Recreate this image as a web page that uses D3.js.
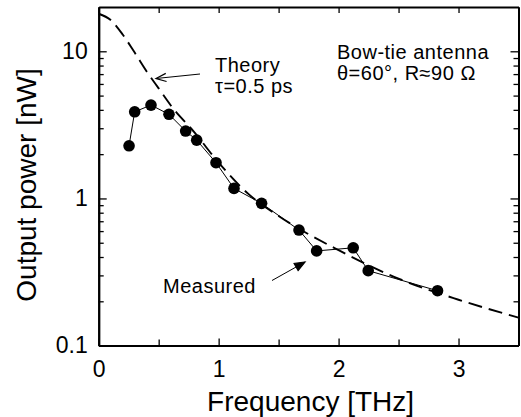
<!DOCTYPE html>
<html>
<head>
<meta charset="utf-8">
<script src="https://cdn.jsdelivr.net/npm/d3@7"></script>
<style>
  body { margin: 0; background: #fff; }
  svg { display: block; font-family: "Liberation Sans", Arial, sans-serif; }
</style>
</head>
<body>
<svg id="chart" width="521" height="417"></svg>
<script>
// measured output power of the bow-tie antenna
const freqMeasured = [0.253, 0.30, 0.436, 0.586, 0.725, 0.817, 0.978, 1.128, 1.358, 1.67, 1.817, 2.122, 2.247, 2.825];
const powerMeasured = [2.28, 3.88, 4.31, 3.73, 2.87, 2.49, 1.75, 1.17, 0.926, 0.61, 0.44, 0.462, 0.323, 0.236];

// theory curve (tau = 0.5 ps)
const freqTheory = [0, 0.1, 0.2, 0.3, 0.4, 0.5, 0.6, 0.8, 1.0, 1.25, 1.5, 2.0, 2.5, 3.0, 3.5];
const powerTheory = [18, 16.3, 13, 9.8, 7.3, 5.6, 4.3, 2.8, 1.75, 1.07, 0.76, 0.445, 0.285, 0.205, 0.155];

const xMajor = [0, 1, 2, 3];
const xMinor = [0.5, 1.5, 2.5];
const yMajor = [0.1, 1, 10];
const yMinor = [0.2, 0.3, 0.4, 0.5, 0.6, 0.7, 0.8, 0.9, 2, 3, 4, 5, 6, 7, 8, 9];

const plotLeft = 98.7, plotRight = 518.5, plotTop = 7, plotBottom = 345.6;

const svg = d3.select('#chart');

const x = d3.scaleLinear().domain([0, 3.5]).range([plotLeft, plotRight]);
const y = d3.scaleLog().domain([0.1, 20]).range([plotBottom, plotTop]);

// theory, dashed
const theory = freqTheory.map((f, i) => ({ f, p: powerTheory[i] }));
svg.append('path')
  .datum(theory)
  .attr('fill', 'none')
  .attr('stroke', '#000')
  .attr('stroke-width', 1.9)
  .attr('stroke-dasharray', '14,7')
  .attr('d', d3.line().x(d => x(d.f)).y(d => y(d.p)).curve(d3.curveMonotoneX));

// measured, thin line + dots
const measured = freqMeasured.map((f, i) => ({ f, p: powerMeasured[i] }));
svg.append('path')
  .datum(measured)
  .attr('fill', 'none')
  .attr('stroke', '#000')
  .attr('stroke-width', 1)
  .attr('d', d3.line().x(d => x(d.f)).y(d => y(d.p)));

svg.selectAll('circle.dot')
  .data(measured)
  .enter()
  .append('circle')
  .attr('class', 'dot')
  .attr('cx', d => x(d.f))
  .attr('cy', d => y(d.p))
  .attr('r', 5.8)
  .attr('fill', '#000');

// axes, ticks pointing inward
function styleAxis(g) {
  g.select('.domain').attr('stroke-width', 2);
  g.selectAll('.tick line').attr('stroke-width', 1.3);
  g.selectAll('text').attr('font-size', 23).attr('fill', '#000').attr('font-family', '"Liberation Sans", Arial, sans-serif');
}

svg.append('g')
  .attr('transform', `translate(0,${plotBottom})`)
  .call(d3.axisBottom(x).tickValues(xMajor).tickFormat(d3.format('d')).tickSize(-7).tickPadding(15).tickSizeOuter(0))
  .call(styleAxis);
svg.append('g')
  .attr('transform', `translate(0,${plotBottom})`)
  .call(d3.axisBottom(x).tickValues(xMinor).tickFormat('').tickSize(-6).tickSizeOuter(0))
  .call(styleAxis);
svg.append('g')
  .attr('transform', `translate(0,${plotTop})`)
  .call(d3.axisTop(x).tickValues(xMajor.concat(xMinor)).tickFormat('').tickSize(-6).tickSizeOuter(0))
  .call(styleAxis);

svg.append('g')
  .attr('transform', `translate(${plotLeft},0)`)
  .call(d3.axisLeft(y).tickValues(yMajor).tickFormat(d3.format('')).tickSize(-8).tickPadding(11).tickSizeOuter(0))
  .call(styleAxis);
svg.append('g')
  .attr('transform', `translate(${plotLeft},0)`)
  .call(d3.axisLeft(y).tickValues(yMinor).tickFormat('').tickSize(-5).tickSizeOuter(0))
  .call(styleAxis);
svg.append('g')
  .attr('transform', `translate(${plotRight},0)`)
  .call(d3.axisRight(y).tickValues(yMajor).tickFormat('').tickSize(-8).tickSizeOuter(0))
  .call(styleAxis);
svg.append('g')
  .attr('transform', `translate(${plotRight},0)`)
  .call(d3.axisRight(y).tickValues(yMinor).tickFormat('').tickSize(-5).tickSizeOuter(0))
  .call(styleAxis);

// axis titles
svg.append('text')
  .attr('x', (plotLeft + plotRight) / 2 + 2)
  .attr('y', 411)
  .attr('text-anchor', 'middle')
  .attr('font-size', 28)
  .text('Frequency [THz]');

svg.append('text')
  .attr('transform', 'translate(36,185) rotate(-90)')
  .attr('text-anchor', 'middle')
  .attr('font-size', 28)
  .text('Output power [nW]');

// annotations (multi-line blocks as tspans)
const note = svg.append('g').attr('font-size', 20).attr('letter-spacing', 0.5).attr('fill', '#000');
function block(x0, y0, lines, gap) {
  const t = note.append('text').attr('x', x0).attr('y', y0);
  lines.forEach((s, i) => t.append('tspan').attr('x', x0).attr('dy', i ? gap : 0).text(s));
}
block(215, 72, ['Theory', 'τ=0.5 ps'], 21);
block(337, 59, ['Bow-tie antenna', 'θ=60°, R≈90 Ω'], 21);
block(163, 293, ['Measured'], 0);

function arrow(x1, y1, x2, y2, head, filled) {
  const a = Math.atan2(y2 - y1, x2 - x1);
  const s = 0.38;
  const p1 = [x2 - head * Math.cos(a - s), y2 - head * Math.sin(a - s)];
  const p2 = [x2 - head * Math.cos(a + s), y2 - head * Math.sin(a + s)];
  svg.append('line')
    .attr('x1', x1).attr('y1', y1).attr('x2', x2).attr('y2', y2)
    .attr('stroke', '#000').attr('stroke-width', 1);
  svg.append('path')
    .attr('d', filled
      ? `M${p1[0]},${p1[1]}L${x2},${y2}L${p2[0]},${p2[1]}Z`
      : `M${p1[0]},${p1[1]}L${x2},${y2}L${p2[0]},${p2[1]}`)
    .attr('fill', filled ? '#000' : 'none')
    .attr('stroke', '#000')
    .attr('stroke-width', 1.2);
}

arrow(200, 74, 156, 78.5, 11, false);
arrow(272, 280.5, 305, 262, 11, true);
</script>
</body>
</html>
